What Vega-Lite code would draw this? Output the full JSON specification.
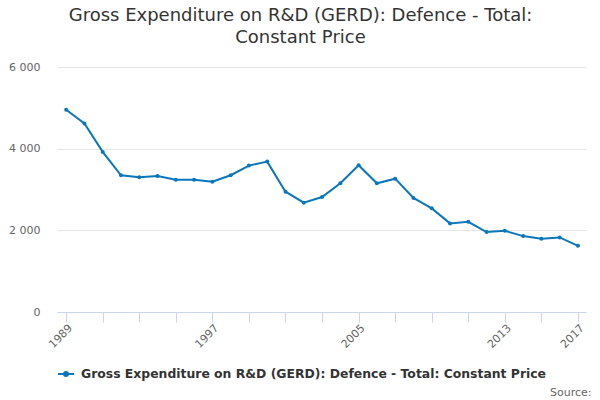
{
  "$schema": "https://vega.github.io/schema/vega-lite/v6.json",
  "autosize": "none",
  "width": 529,
  "height": 245,
  "padding": {"left": 57, "top": 67, "right": 14, "bottom": 88},
  "background": "#ffffff",
  "config": {
    "font": "DejaVu Sans",
    "view": {"stroke": null}
  },
  "title": {
    "text": ["Gross Expenditure on R&D (GERD): Defence - Total:", "Constant Price"],
    "font": "DejaVu Sans",
    "fontSize": 18,
    "fontWeight": "normal",
    "color": "#333333",
    "anchor": "middle",
    "dx": -21,
    "offset": 14,
    "lineHeight": 22
  },
  "data": {
    "values": [
      {"year": 1989, "value": 4952, "series": "Gross Expenditure on R&D (GERD): Defence - Total: Constant Price"},
      {"year": 1990, "value": 4616, "series": "Gross Expenditure on R&D (GERD): Defence - Total: Constant Price"},
      {"year": 1991, "value": 3921, "series": "Gross Expenditure on R&D (GERD): Defence - Total: Constant Price"},
      {"year": 1992, "value": 3349, "series": "Gross Expenditure on R&D (GERD): Defence - Total: Constant Price"},
      {"year": 1993, "value": 3300, "series": "Gross Expenditure on R&D (GERD): Defence - Total: Constant Price"},
      {"year": 1994, "value": 3332, "series": "Gross Expenditure on R&D (GERD): Defence - Total: Constant Price"},
      {"year": 1995, "value": 3241, "series": "Gross Expenditure on R&D (GERD): Defence - Total: Constant Price"},
      {"year": 1996, "value": 3241, "series": "Gross Expenditure on R&D (GERD): Defence - Total: Constant Price"},
      {"year": 1997, "value": 3192, "series": "Gross Expenditure on R&D (GERD): Defence - Total: Constant Price"},
      {"year": 1998, "value": 3349, "series": "Gross Expenditure on R&D (GERD): Defence - Total: Constant Price"},
      {"year": 1999, "value": 3585, "series": "Gross Expenditure on R&D (GERD): Defence - Total: Constant Price"},
      {"year": 2000, "value": 3683, "series": "Gross Expenditure on R&D (GERD): Defence - Total: Constant Price"},
      {"year": 2001, "value": 2946, "series": "Gross Expenditure on R&D (GERD): Defence - Total: Constant Price"},
      {"year": 2002, "value": 2676, "series": "Gross Expenditure on R&D (GERD): Defence - Total: Constant Price"},
      {"year": 2003, "value": 2816, "series": "Gross Expenditure on R&D (GERD): Defence - Total: Constant Price"},
      {"year": 2004, "value": 3152, "series": "Gross Expenditure on R&D (GERD): Defence - Total: Constant Price"},
      {"year": 2005, "value": 3594, "series": "Gross Expenditure on R&D (GERD): Defence - Total: Constant Price"},
      {"year": 2006, "value": 3152, "series": "Gross Expenditure on R&D (GERD): Defence - Total: Constant Price"},
      {"year": 2007, "value": 3265, "series": "Gross Expenditure on R&D (GERD): Defence - Total: Constant Price"},
      {"year": 2008, "value": 2792, "series": "Gross Expenditure on R&D (GERD): Defence - Total: Constant Price"},
      {"year": 2009, "value": 2538, "series": "Gross Expenditure on R&D (GERD): Defence - Total: Constant Price"},
      {"year": 2010, "value": 2170, "series": "Gross Expenditure on R&D (GERD): Defence - Total: Constant Price"},
      {"year": 2011, "value": 2210, "series": "Gross Expenditure on R&D (GERD): Defence - Total: Constant Price"},
      {"year": 2012, "value": 1957, "series": "Gross Expenditure on R&D (GERD): Defence - Total: Constant Price"},
      {"year": 2013, "value": 1989, "series": "Gross Expenditure on R&D (GERD): Defence - Total: Constant Price"},
      {"year": 2014, "value": 1859, "series": "Gross Expenditure on R&D (GERD): Defence - Total: Constant Price"},
      {"year": 2015, "value": 1792, "series": "Gross Expenditure on R&D (GERD): Defence - Total: Constant Price"},
      {"year": 2016, "value": 1827, "series": "Gross Expenditure on R&D (GERD): Defence - Total: Constant Price"},
      {"year": 2017, "value": 1620, "series": "Gross Expenditure on R&D (GERD): Defence - Total: Constant Price"}
    ]
  },
  "encoding": {
    "x": {
      "field": "year",
      "type": "quantitative",
      "scale": {"domain": [1988.5, 2017.44], "nice": false, "zero": false},
      "axis": {
        "values": [1989, 1991, 1993, 1995, 1997, 1999, 2001, 2003, 2005, 2007, 2009, 2011, 2013, 2015, 2017],
        "format": "d",
        "labelExpr": "indexof([1989, 1997, 2005, 2013, 2017], datum.value) >= 0 ? datum.label : ''",
        "grid": false,
        "domainColor": "#ccd6eb",
        "tickColor": "#ccd6eb",
        "tickSize": 10,
        "labelAngle": -45,
        "labelAlign": "right",
        "labelBaseline": "top",
        "labelPadding": 0,
        "labelFontSize": 11,
        "labelColor": "#666666",
        "labelFlush": false,
        "labelOverlap": false,
        "title": "Source:",
        "titleAnchor": "end",
        "titleAlign": "right",
        "titleBaseline": "alphabetic",
        "titleX": 534,
        "titleY": 83,
        "titleFontSize": 11,
        "titleFontWeight": "normal",
        "titleColor": "#666666"
      }
    },
    "y": {
      "field": "value",
      "type": "quantitative",
      "scale": {"domain": [0, 6000], "nice": false},
      "axis": {
        "values": [0, 2000, 4000, 6000],
        "labelExpr": "replace(format(datum.value, ','), ',', ' ')",
        "domain": false,
        "ticks": false,
        "gridColor": "#e6e6e6",
        "labelPadding": 17,
        "labelFontSize": 11,
        "labelColor": "#666666",
        "title": null
      }
    },
    "color": {
      "field": "series",
      "type": "nominal",
      "scale": {"range": ["#0a77bd"]},
      "legend": {
        "title": null,
        "orient": "none",
        "legendX": 0,
        "legendY": 298,
        "padding": 0,
        "symbolType": "M-1,0H1M-0.25,0A0.25,0.25 0 1,0 0.25,0A0.25,0.25 0 1,0 -0.25,0Z",
        "symbolSize": 256,
        "symbolStrokeWidth": 2,
        "symbolFillColor": "#0a77bd",
        "symbolStrokeColor": "#0a77bd",
        "labelFontSize": 12.4,
        "labelFontWeight": "bold",
        "labelColor": "#333333",
        "labelLimit": 0,
        "labelOffset": 6
      }
    }
  },
  "layer": [
    {"mark": {"type": "line", "strokeWidth": 2}},
    {"mark": {"type": "point", "filled": true, "size": 16, "opacity": 1}}
  ]
}
